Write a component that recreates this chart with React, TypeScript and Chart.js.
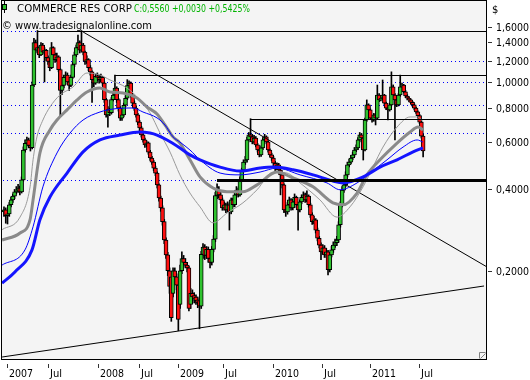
import React, { useEffect, useRef } from 'react';
import { Chart, registerables } from 'chart.js';
Chart.register(...registerables);

// ---- weekly OHLC (index 0 = first week shown) ----
const opens = [
  0.330, 0.336, 0.320, 0.325, 0.351, 0.366, 0.378, 0.392, 0.398, 0.405,
  0.392, 0.434, 0.560, 0.593, 0.610, 0.582, 0.571, 0.974, 1.400, 1.310,
  1.340, 1.260, 1.370, 1.290, 1.310, 1.230, 1.190, 1.130, 1.340, 1.260,
  1.210, 1.240, 1.110, 0.930, 0.970, 1.040, 1.060, 1.000, 0.970, 1.040,
  1.160, 1.260, 1.340, 1.400, 1.310, 1.370, 1.290, 1.190, 1.210, 1.130,
  1.090, 1.020, 0.990, 1.050, 1.040, 1.020, 1.040, 0.990, 0.860, 0.755,
  0.790, 0.770, 0.860, 0.895, 0.950, 0.860, 0.800, 0.735, 0.755, 0.820,
  0.870, 0.970, 0.990, 0.895, 0.835, 0.800, 0.755, 0.710, 0.676, 0.637,
  0.610, 0.585, 0.595, 0.550, 0.523, 0.505, 0.480, 0.460, 0.416, 0.372,
  0.342, 0.304, 0.260, 0.229, 0.200, 0.190, 0.165, 0.200, 0.190, 0.177,
  0.150, 0.200, 0.222, 0.215, 0.210, 0.205, 0.150, 0.165, 0.162, 0.160,
  0.156, 0.155, 0.148, 0.230, 0.245, 0.228, 0.240, 0.222, 0.215, 0.240,
  0.262, 0.380, 0.398, 0.382, 0.366, 0.342, 0.351, 0.336, 0.351, 0.330,
  0.366, 0.351, 0.382, 0.398, 0.382, 0.434, 0.472, 0.505, 0.514, 0.610,
  0.637, 0.626, 0.600, 0.620, 0.585, 0.560, 0.537, 0.570, 0.610, 0.626,
  0.600, 0.560, 0.537, 0.523, 0.500, 0.480, 0.493, 0.472, 0.453, 0.416,
  0.336, 0.330, 0.351, 0.366, 0.342, 0.360, 0.374, 0.351, 0.336, 0.360,
  0.374, 0.382, 0.366, 0.378, 0.351, 0.322, 0.304, 0.309, 0.283, 0.264,
  0.249, 0.235, 0.243, 0.229, 0.235, 0.202, 0.229, 0.239, 0.249, 0.254,
  0.260, 0.296, 0.351, 0.398, 0.416, 0.453, 0.493, 0.505, 0.523, 0.537,
  0.560, 0.570, 0.610, 0.637, 0.620, 0.560, 0.723, 0.822, 0.788, 0.735,
  0.723, 0.755, 0.735, 0.895, 0.858, 0.870, 0.895, 0.835, 0.800, 0.788,
  0.822, 0.960, 0.895, 0.858, 0.822, 0.895, 0.960, 0.974, 0.920, 0.887,
  0.870, 0.858, 0.840, 0.822, 0.800, 0.775, 0.750, 0.710, 0.630,
];
const closes = [
  0.336, 0.320, 0.325, 0.351, 0.366, 0.378, 0.392, 0.398, 0.405, 0.392,
  0.434, 0.560, 0.593, 0.610, 0.582, 0.571, 0.974, 1.400, 1.310, 1.340,
  1.260, 1.370, 1.290, 1.310, 1.230, 1.190, 1.130, 1.340, 1.260, 1.210,
  1.240, 1.110, 0.930, 0.970, 1.040, 1.060, 1.000, 0.970, 1.040, 1.160,
  1.260, 1.340, 1.400, 1.310, 1.370, 1.290, 1.190, 1.210, 1.130, 1.090,
  1.020, 0.990, 1.050, 1.040, 1.020, 1.040, 0.990, 0.860, 0.755, 0.790,
  0.770, 0.860, 0.895, 0.950, 0.860, 0.800, 0.735, 0.755, 0.820, 0.870,
  0.970, 0.990, 0.895, 0.835, 0.800, 0.755, 0.710, 0.676, 0.637, 0.610,
  0.585, 0.595, 0.550, 0.523, 0.505, 0.480, 0.460, 0.416, 0.372, 0.342,
  0.304, 0.260, 0.229, 0.200, 0.175, 0.134, 0.200, 0.190, 0.177, 0.132,
  0.200, 0.222, 0.215, 0.210, 0.205, 0.145, 0.165, 0.160, 0.158, 0.155,
  0.152, 0.148, 0.230, 0.245, 0.228, 0.240, 0.222, 0.215, 0.240, 0.262,
  0.380, 0.398, 0.382, 0.366, 0.342, 0.351, 0.336, 0.351, 0.330, 0.366,
  0.351, 0.382, 0.398, 0.382, 0.434, 0.472, 0.505, 0.514, 0.610, 0.637,
  0.626, 0.600, 0.620, 0.585, 0.560, 0.537, 0.570, 0.610, 0.626, 0.600,
  0.560, 0.537, 0.523, 0.500, 0.480, 0.493, 0.472, 0.453, 0.416, 0.336,
  0.330, 0.351, 0.366, 0.342, 0.360, 0.374, 0.351, 0.336, 0.360, 0.374,
  0.382, 0.366, 0.378, 0.351, 0.322, 0.304, 0.309, 0.283, 0.264, 0.249,
  0.235, 0.243, 0.229, 0.235, 0.202, 0.229, 0.239, 0.249, 0.254, 0.260,
  0.296, 0.351, 0.398, 0.416, 0.453, 0.493, 0.505, 0.523, 0.537, 0.560,
  0.570, 0.610, 0.637, 0.620, 0.560, 0.723, 0.822, 0.788, 0.735, 0.723,
  0.755, 0.735, 0.895, 0.858, 0.870, 0.895, 0.835, 0.800, 0.788, 0.822,
  0.960, 0.895, 0.858, 0.822, 0.895, 0.960, 0.974, 0.920, 0.887, 0.870,
  0.858, 0.840, 0.822, 0.800, 0.775, 0.750, 0.710, 0.630, 0.556,
];
const highs = [
  0.345, 0.342, 0.333, 0.358, 0.375, 0.385, 0.400, 0.410, 0.418, 0.412,
  0.445, 0.575, 0.610, 0.625, 0.620, 0.590, 1.000, 1.450, 1.430, 1.550,
  1.360, 1.400, 1.390, 1.340, 1.320, 1.250, 1.210, 1.400, 1.350, 1.280,
  1.280, 1.250, 1.120, 1.000, 1.060, 1.090, 1.080, 1.020, 1.060, 1.180,
  1.290, 1.370, 1.490, 1.420, 1.550, 1.390, 1.300, 1.250, 1.220, 1.150,
  1.100, 1.040, 1.070, 1.080, 1.060, 1.070, 1.050, 1.000, 0.870, 0.810,
  0.800, 0.875, 0.920, 1.060, 0.960, 0.870, 0.810, 0.770, 0.835, 0.890,
  1.020, 1.010, 1.000, 0.905, 0.850, 0.815, 0.765, 0.720, 0.685, 0.645,
  0.620, 0.605, 0.600, 0.558, 0.530, 0.512, 0.488, 0.465, 0.420, 0.378,
  0.348, 0.310, 0.265, 0.234, 0.205, 0.195, 0.205, 0.205, 0.195, 0.180,
  0.210, 0.235, 0.228, 0.222, 0.215, 0.208, 0.172, 0.170, 0.166, 0.163,
  0.160, 0.158, 0.236, 0.252, 0.250, 0.246, 0.245, 0.228, 0.246, 0.270,
  0.390, 0.420, 0.410, 0.390, 0.372, 0.360, 0.356, 0.360, 0.356, 0.372,
  0.372, 0.390, 0.410, 0.405, 0.445, 0.480, 0.515, 0.530, 0.625, 0.650,
  0.731, 0.640, 0.635, 0.628, 0.592, 0.568, 0.580, 0.622, 0.640, 0.632,
  0.605, 0.566, 0.545, 0.530, 0.508, 0.502, 0.500, 0.480, 0.460, 0.420,
  0.345, 0.358, 0.375, 0.370, 0.368, 0.385, 0.378, 0.356, 0.366, 0.382,
  0.392, 0.388, 0.395, 0.382, 0.356, 0.328, 0.318, 0.312, 0.288, 0.268,
  0.254, 0.250, 0.248, 0.242, 0.238, 0.234, 0.246, 0.256, 0.262, 0.268,
  0.304, 0.360, 0.410, 0.428, 0.465, 0.505, 0.518, 0.535, 0.550, 0.572,
  0.585, 0.622, 0.650, 0.645, 0.628, 0.735, 0.858, 0.830, 0.795, 0.745,
  0.765, 0.762, 0.974, 0.905, 0.890, 1.017, 0.900, 0.842, 0.810, 0.835,
  1.090, 0.975, 0.905, 0.865, 0.905, 1.060, 0.990, 0.980, 0.930, 0.897,
  0.880, 0.865, 0.848, 0.830, 0.808, 0.782, 0.758, 0.718, 0.640,
];
const lows = [
  0.318, 0.300, 0.298, 0.318, 0.345, 0.358, 0.370, 0.385, 0.390, 0.382,
  0.388, 0.430, 0.550, 0.580, 0.570, 0.555, 0.565, 0.960, 1.280, 1.290,
  1.230, 1.250, 1.270, 1.000, 1.200, 1.160, 1.100, 1.120, 1.230, 1.180,
  1.190, 1.090, 0.750, 0.900, 0.950, 1.010, 0.980, 0.930, 0.960, 1.030,
  1.140, 1.240, 1.320, 1.280, 1.290, 1.260, 1.160, 1.170, 1.100, 1.060,
  0.840, 0.960, 0.980, 1.010, 0.990, 1.000, 0.970, 0.840, 0.740, 0.680,
  0.750, 0.760, 0.850, 0.880, 0.840, 0.780, 0.720, 0.720, 0.745, 0.810,
  0.860, 0.950, 0.880, 0.820, 0.785, 0.740, 0.695, 0.660, 0.625, 0.598,
  0.572, 0.575, 0.540, 0.512, 0.495, 0.470, 0.450, 0.405, 0.362, 0.332,
  0.295, 0.252, 0.222, 0.192, 0.165, 0.130, 0.160, 0.182, 0.170, 0.120,
  0.145, 0.195, 0.208, 0.205, 0.198, 0.142, 0.145, 0.155, 0.152, 0.150,
  0.146, 0.122, 0.145, 0.222, 0.220, 0.222, 0.215, 0.205, 0.210, 0.235,
  0.256, 0.370, 0.372, 0.355, 0.335, 0.335, 0.328, 0.330, 0.283, 0.325,
  0.345, 0.345, 0.375, 0.375, 0.378, 0.428, 0.465, 0.495, 0.505, 0.600,
  0.615, 0.590, 0.592, 0.575, 0.550, 0.528, 0.530, 0.562, 0.600, 0.590,
  0.550, 0.528, 0.512, 0.490, 0.470, 0.472, 0.462, 0.382, 0.405, 0.328,
  0.318, 0.324, 0.345, 0.335, 0.336, 0.352, 0.343, 0.283, 0.330, 0.354,
  0.366, 0.358, 0.360, 0.344, 0.315, 0.297, 0.298, 0.276, 0.258, 0.243,
  0.220, 0.230, 0.224, 0.224, 0.193, 0.198, 0.225, 0.234, 0.244, 0.248,
  0.255, 0.290, 0.345, 0.390, 0.410, 0.445, 0.485, 0.498, 0.515, 0.530,
  0.552, 0.562, 0.600, 0.610, 0.514, 0.555, 0.715, 0.775, 0.725, 0.710,
  0.715, 0.693, 0.730, 0.845, 0.850, 0.862, 0.825, 0.790, 0.723, 0.780,
  0.815, 0.885, 0.610, 0.810, 0.815, 0.885, 0.945, 0.910, 0.875, 0.858,
  0.845, 0.830, 0.810, 0.788, 0.765, 0.738, 0.700, 0.620, 0.528,
];

// ---- moving averages (bar index, value) ----
const maFastIdx = [-1.1, 9.1, 14.8, 16.5, 18.7, 22.1, 26.1, 31.8, 39.2, 47.1, 54.5, 60.2, 69.8, 77.2, 82.9, 88.6, 94.3, 99.9, 105.6, 111.3, 118.7, 126.6, 135.7, 143.7, 152.8, 160.7, 168.1, 179.4, 189.1, 196.5, 203.9, 209.5, 215.2, 223.2, 230.6, 235.1, 237.9];
const maFastVal = [0.284, 0.316, 0.409, 0.515, 0.626, 0.723, 0.808, 0.895, 0.958, 1.079, 1.061, 1.017, 0.950, 0.858, 0.768, 0.647, 0.550, 0.453, 0.388, 0.345, 0.301, 0.327, 0.357, 0.399, 0.464, 0.460, 0.423, 0.366, 0.316, 0.345, 0.409, 0.484, 0.574, 0.681, 0.742, 0.742, 0.711];
const maMidIdx = [-1.1, 9.1, 14.8, 16.5, 20.4, 26.1, 30.1, 35.8, 41.5, 47.1, 54.5, 60.2, 67.6, 75.5, 81.2, 86.9, 91.4, 96.0, 99.9, 105.6, 111.3, 118.7, 126.6, 135.7, 143.7, 155.0, 164.1, 175.5, 186.8, 192.5, 200.5, 206.1, 213.5, 223.2, 230.6, 235.1, 237.9];
const maMidVal = [0.260, 0.276, 0.309, 0.366, 0.546, 0.664, 0.723, 0.788, 0.858, 0.918, 0.950, 0.918, 0.910, 0.872, 0.808, 0.761, 0.693, 0.626, 0.594, 0.515, 0.445, 0.405, 0.392, 0.392, 0.416, 0.464, 0.441, 0.409, 0.357, 0.351, 0.388, 0.453, 0.515, 0.594, 0.653, 0.681, 0.664];
const maSlowIdx = [-1.1, 11.9, 16.5, 22.1, 30.1, 37.5, 44.9, 54.5, 61.9, 73.3, 78.9, 86.9, 91.4, 96.0, 99.9, 105.6, 111.3, 122.7, 134.0, 145.4, 155.0, 168.1, 183.4, 190.8, 200.5, 207.8, 217.5, 226.6, 234.6, 237.9];
const maSlowVal = [0.210, 0.239, 0.291, 0.409, 0.546, 0.647, 0.723, 0.774, 0.794, 0.801, 0.774, 0.736, 0.693, 0.626, 0.599, 0.560, 0.515, 0.460, 0.453, 0.464, 0.480, 0.453, 0.423, 0.399, 0.423, 0.460, 0.515, 0.574, 0.610, 0.599];
const maLongIdx = [-1.1, 6.2, 15.9, 20.4, 26.1, 35.8, 44.9, 54.5, 65.9, 77.2, 82.9, 86.9, 92.6, 99.9, 105.6, 111.3, 122.7, 134.0, 145.4, 152.8, 164.1, 175.5, 186.8, 192.5, 203.9, 213.5, 223.2, 232.3, 237.9];
const maLongVal = [0.180, 0.198, 0.239, 0.309, 0.375, 0.460, 0.551, 0.610, 0.636, 0.653, 0.647, 0.636, 0.610, 0.570, 0.537, 0.515, 0.484, 0.468, 0.480, 0.484, 0.473, 0.453, 0.430, 0.423, 0.445, 0.484, 0.515, 0.551, 0.570];

// ---- drawn levels & trendlines ----
const dottedLevels = [1.547, 1.198, 0.997, 0.819, 0.647, 0.434];
const hLineLevels = [1.55, 1.063, 0.731, 0.434];
const hLineStart = [18.7, 63, 140, 121];
const upperTrendIdx = [44.9, 274.3];
const upperTrendVal = [1.531, 0.2066];
const lowerTrendIdx = [-1.1, 272.6];
const lowerTrendVal = [0.0959, 0.1757];

// ---- axes ----
const xTickPos = [1.9, 25.2, 53.5, 76.8, 99, 124.2, 152.9, 180.4, 207.8, 235.8];
const xTickLabels = ['2007', 'Jul', '2008', 'Jul', '2009', 'Jul', '2010', 'Jul', '2011', 'Jul'];
const yTickValues = [1.6, 1.4, 1.2, 1.0, 0.8, 0.6, 0.4, 0.2];
const yTickLabels = ['1,6000', '1,4000', '1,2000', '1,0000', '0,8000', '0,6000', '0,4000', '0,2000'];
const titleText = 'COMMERCE RES CORP';
const quoteText = 'C:0,5560 +0,0030 +0,5425%';
const copyrightText = '\u00A9 www.tradesignalonline.com';

const X_MIN = -1.7036;
const X_MAX = 274.27;
const Y_MIN = 0.0935;
const Y_MAX = 2.0106;
const FONT = '"DejaVu Sans", "Liberation Sans", sans-serif';
const GREEN = '#2fc22f';
const RED = '#ff1010';

export default function App() {
  const ref = useRef<HTMLCanvasElement>(null);
  useEffect(() => {
    const canvas = ref.current!;
    const pts = (xs: number[], ys: number[]) => xs.map((x, i) => ({ x, y: ys[i] }));
    const bodies = opens.map((o, i) => ({ x: i, y: [Math.min(o, closes[i]), Math.max(o, closes[i])] }));
    const wicks = highs.map((h, i) => ({ x: i, y: [lows[i], h] }));
    const bodyColors = opens.map((o, i) => (closes[i] >= o ? GREEN : RED));
    const line = (data: any, color: string, width: number, extra: any = {}) => ({
      type: 'line', data, borderColor: color, borderWidth: width, pointRadius: 0,
      fill: false, order: 0, tension: 0, ...extra,
    });
    const datasets: any[] = [];
    datasets.push({ type: 'bar', data: wicks, backgroundColor: '#000', barThickness: 1, grouped: false, order: 3 });
    datasets.push({ type: 'bar', data: bodies, backgroundColor: bodyColors, borderColor: '#000', borderWidth: 1, borderSkipped: false, barThickness: 4, minBarLength: 1, grouped: false, order: 2 });
    datasets.push(line(pts(maLongIdx, maLongVal), '#1414ff', 3, { cubicInterpolationMode: 'monotone' }));
    datasets.push(line(pts(maSlowIdx, maSlowVal), '#0000ff', 1, { cubicInterpolationMode: 'monotone' }));
    datasets.push(line(pts(maMidIdx, maMidVal), '#8a8a8a', 3, { cubicInterpolationMode: 'monotone' }));
    datasets.push(line(pts(maFastIdx, maFastVal), '#9a9a9a', 1, { cubicInterpolationMode: 'monotone' }));
    datasets.push(line(pts(upperTrendIdx, upperTrendVal), '#000', 1));
    datasets.push(line(pts(lowerTrendIdx, lowerTrendVal), '#000', 1));

    const decor = {
      id: 'decor',
      beforeDraw(chart: any) {
        const { ctx, chartArea: a } = chart;
        ctx.save();
        ctx.fillStyle = '#ffffff';
        ctx.fillRect(0, 0, chart.width, chart.height);
        ctx.fillStyle = '#f4f4f4';
        ctx.fillRect(a.left, a.top, a.right - a.left, a.bottom - a.top);
        ctx.restore();
      },
      beforeDatasetsDraw(chart: any) {
        // dotted blue levels, snapped to the pixel grid
        const { ctx, chartArea: a, scales } = chart;
        ctx.save();
        ctx.fillStyle = '#0000ff';
        dottedLevels.forEach((v) => {
          const y = Math.round(scales.y.getPixelForValue(v));
          for (let x = a.left + 2; x < a.right; x += 4) ctx.fillRect(x, y, 1, 1);
        });
        ctx.restore();
      },
      afterDatasetsDraw(chart: any) {
        // solid horizontal levels
        const { ctx, chartArea: a, scales } = chart;
        ctx.save();
        ctx.fillStyle = '#000';
        hLineLevels.forEach((v, k) => {
          const y = Math.round(scales.y.getPixelForValue(v));
          const x0 = Math.round(scales.x.getPixelForValue(hLineStart[k]));
          const w = k === 3 ? 3 : 1;
          ctx.fillRect(x0, y - (w > 1 ? 1 : 0), a.right - x0, w);
        });
        ctx.restore();
      },
      afterDraw(chart: any) {
        const { ctx, chartArea: a, scales } = chart;
        const xs = scales.x, ys = scales.y;
        ctx.save();
        ctx.strokeStyle = '#000';
        ctx.lineWidth = 1;
        ctx.strokeRect(a.left + 0.5, a.top + 0.5, a.right - a.left - 1, a.bottom - a.top - 1);
        // resize glyph
        ctx.strokeStyle = '#808080';
        ctx.beginPath();
        ctx.moveTo(a.right - 7.5, a.bottom - 1.5); ctx.lineTo(a.right - 7.5, a.bottom - 7.5); ctx.lineTo(a.right - 1.5, a.bottom - 7.5);
        ctx.moveTo(a.right - 6.5, a.bottom - 1.5); ctx.lineTo(a.right - 1.5, a.bottom - 6.5);
        ctx.stroke();
        // y axis
        ctx.fillStyle = '#000';
        ctx.strokeStyle = '#333';
        ctx.font = `10px ${FONT}`;
        ctx.textAlign = 'left';
        ctx.textBaseline = 'middle';
        yTickValues.forEach((v, k) => {
          const y = Math.round(ys.getPixelForValue(v)) + 0.5;
          ctx.beginPath(); ctx.moveTo(a.right + 1, y); ctx.lineTo(a.right + 5, y); ctx.stroke();
          ctx.fillText(yTickLabels[k], a.right + 9, y + 0.5, 33);
        });
        ctx.textBaseline = 'alphabetic';
        ctx.fillText('$', a.right + 5, 13);
        // x axis
        xTickPos.forEach((p, k) => {
          const x = Math.round(xs.getPixelForValue(p)) + 0.5;
          ctx.beginPath(); ctx.moveTo(x, a.bottom + 4); ctx.lineTo(x, a.bottom + 8); ctx.stroke();
          ctx.fillText(xTickLabels[k], x + 1.5, a.bottom + 17, 24);
        });
        // legend
        ctx.fillStyle = '#000';
        ctx.fillRect(4, 1, 1, 12);
        ctx.fillStyle = GREEN;
        ctx.fillRect(2, 4, 5, 6);
        ctx.strokeStyle = '#000';
        ctx.strokeRect(2.5, 4.5, 4, 5);
        ctx.font = `11px ${FONT}`;
        ctx.fillStyle = '#000';
        ctx.fillText(titleText, 17, 12, 115);
        ctx.fillStyle = '#00b400';
        ctx.fillText(quoteText, 134, 12, 116);
        ctx.fillStyle = '#000';
        ctx.fillText(copyrightText, 2, 29, 150);
        ctx.restore();
      },
    };

    const chart = new Chart(canvas, {
      type: 'bar',
      data: { datasets },
      options: {
        responsive: false,
        animation: false,
        events: [],
        layout: { padding: { left: 1, top: 0, right: 43, bottom: 20 } },
        scales: {
          x: { type: 'linear', min: X_MIN, max: X_MAX, display: false, offset: false, bounds: 'data' },
          y: { type: 'logarithmic', min: Y_MIN, max: Y_MAX, display: false, bounds: 'data' },
        },
        plugins: { legend: { display: false }, tooltip: { enabled: false } },
      } as any,
      plugins: [decor],
    } as any);
    return () => chart.destroy();
  }, []);
  return (
    <div style={{ position: 'fixed', left: 0, top: 0, width: 530, height: 380, background: '#fff' }}>
      <canvas ref={ref} width={530} height={380} style={{ display: 'block', width: 530, height: 380 }} />
    </div>
  );
}
